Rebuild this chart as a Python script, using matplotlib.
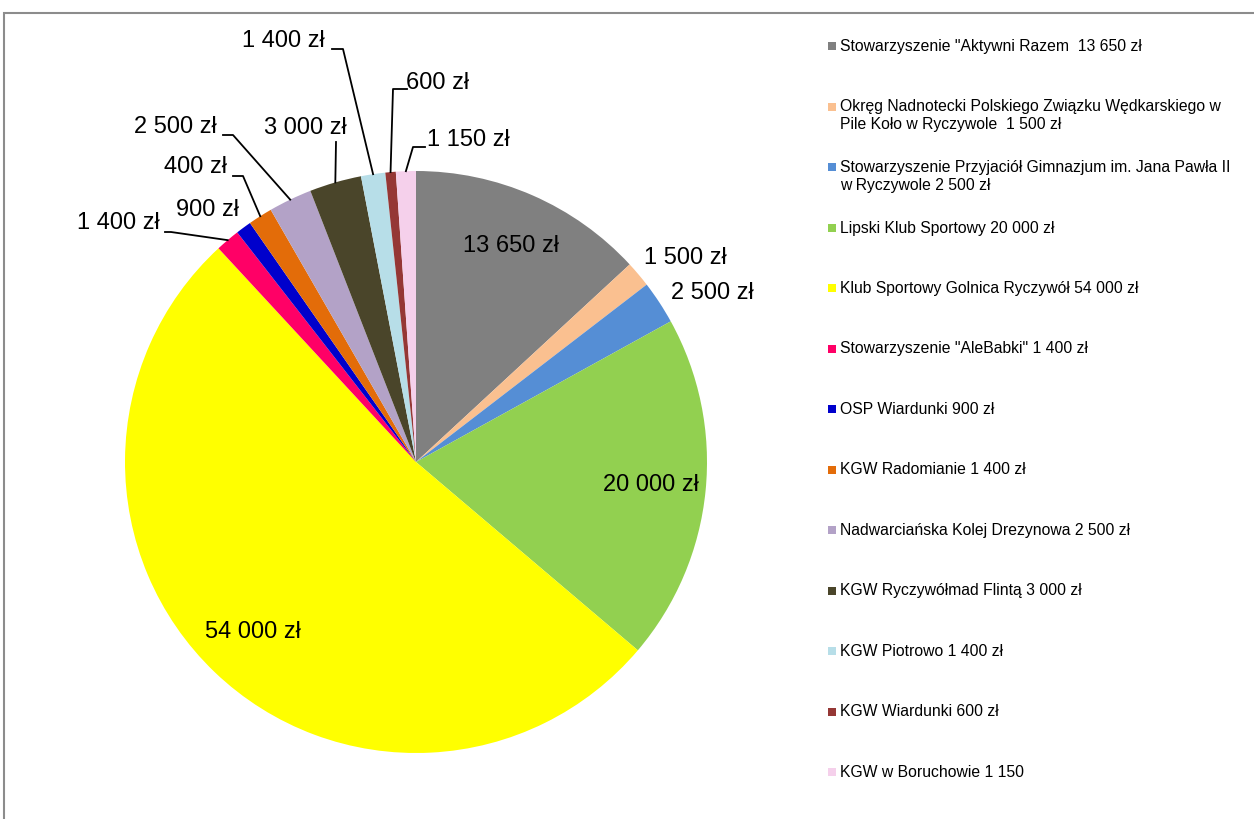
import matplotlib.pyplot as plt
from matplotlib.patches import Rectangle
import numpy as np

plt.rcParams['font.family'] = ['Liberation Sans', 'DejaVu Sans']

# =================================================================
# DATA
# =================================================================
nazwy = [
    'Stowarzyszenie "Aktywni Razem  13 650 zł',
    'Okręg Nadnotecki Polskiego Związku Wędkarskiego w\nPile Koło w Ryczywole  1 500 zł',
    'Stowarzyszenie Przyjaciół Gimnazjum im. Jana Pawła II\nw Ryczywole 2 500 zł',
    'Lipski Klub Sportowy 20 000 zł',
    'Klub Sportowy Golnica Ryczywół 54 000 zł',
    'Stowarzyszenie "AleBabki" 1 400 zł',
    'OSP Wiardunki 900 zł',
    'KGW Radomianie 1 400 zł',
    'Nadwarciańska Kolej Drezynowa 2 500 zł',
    'KGW Ryczywółmad Flintą 3 000 zł',
    'KGW Piotrowo 1 400 zł',
    'KGW Wiardunki 600 zł',
    'KGW w Boruchowie 1 150',
]
kwoty = [13650, 1500, 2500, 20000, 54000, 1400, 900, 1400, 2500, 3000, 1400, 600, 1150]
etykiety = ['13 650 zł', '1 500 zł', '2 500 zł', '20 000 zł', '54 000 zł', '1 400 zł',
            '900 zł', '400 zł', '2 500 zł', '3 000 zł', '1 400 zł', '600 zł', '1 150 zł']
warna = ['#808080', '#FAC090', '#558ED5', '#92D050', '#FFFF00', '#FF0066', '#0000CC',
         '#E36C09', '#B3A2C7', '#4A452A', '#B7DEE8', '#953735', '#F5D0EB']

# =================================================================
# LAYOUT (pixel, y dari atas)
# =================================================================
W, H = 1254, 819
cx, cy, R = 416, 462, 291

# posisi label luar: (x teks, y teks, titik siku atau None)
posisi_luar = {
    1: (685, 258, None),
    2: (712, 293, None),
    5: (118, 223, (171, 232)),
    6: (207, 210, None),
    7: (195, 167, (243, 176)),
    8: (175, 127, (233, 135)),
    9: (305, 128, (336, 142)),
    10: (283, 41, (343, 49)),
    11: (438, 83, (393, 89)),
    12: (468, 140, (413, 147)),
}
awal_garis = {5: (165, 232), 7: (233, 176), 8: (223, 135), 10: (332, 49),
              11: (407, 89), 12: (425, 147)}
dalam = [0, 3, 4]


def P(x, y):
    return x, H - y


fig = plt.figure(figsize=(W / 100, H / 100), dpi=100)
ax = fig.add_axes([0, 0, 1, 1])

# bingkai abu-abu
ax.add_patch(Rectangle(P(4, 830), W, 830 - 13, fill=False, edgecolor='#8c8c8c', linewidth=1.5))

wedges, _ = ax.pie(kwoty, colors=warna, startangle=90, counterclock=False,
                   center=P(cx, cy), radius=R, frame=True)
ax.set_xlim(0, W)
ax.set_ylim(0, H)
ax.set_aspect('equal')
ax.axis('off')

for i, w in enumerate(wedges):
    sudut = np.deg2rad((w.theta1 + w.theta2) / 2)
    ux, uy = np.cos(sudut), np.sin(sudut)
    X0, Y0 = P(cx, cy)
    if i in dalam:
        ax.text(X0 + 0.81 * R * ux, Y0 + 0.81 * R * uy, etykiety[i], fontsize=17,
                ha='center', va='center')
    else:
        tx, ty, siku = posisi_luar[i]
        ax.text(*P(tx, ty), etykiety[i], fontsize=17, ha='center', va='center')
        if siku is not None:
            rim = (X0 + R * ux, Y0 + R * uy)
            if i in awal_garis:
                a = P(*awal_garis[i])
            else:
                a = P(*siku)
            s = P(*siku)
            ax.plot([a[0], s[0], rim[0]], [a[1], s[1], rim[1]], color='black', lw=1.3)

# legenda manual
for i, nama in enumerate(nazwy):
    y = 46 + i * 60.5
    ax.add_patch(Rectangle(P(828, y + 4), 8, 8, color=warna[i], linewidth=0))
    ax.text(*P(840, y - 7), nama, fontsize=11.3, ha='left', va='top', linespacing=1.22)

fig.savefig('out.png', dpi=100)
